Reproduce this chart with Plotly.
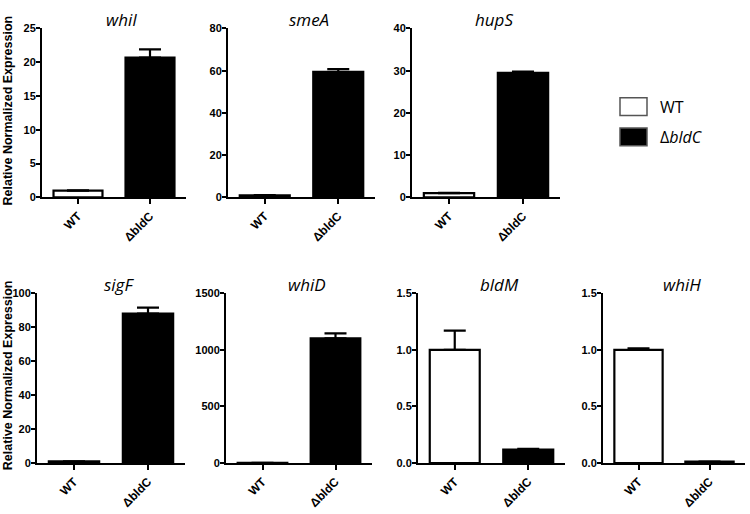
import plotly.graph_objects as go

# ---- data ----
genes = ["whiI", "smeA", "hupS", "sigF", "whiD", "bldM", "whiH"]
strains = ["WT", "ΔbldC"]
wt_vals = [1.0, 1.0, 1.0, 1.0, 1.0, 1.0, 1.0]
wt_err = [0.05, 0.1, 0.1, 0.05, 0.5, 0.17, 0.012]
bldc_vals = [20.7, 59.5, 29.5, 88.0, 1100, 0.12, 0.012]
bldc_err = [1.2, 1.3, 0.3, 3.5, 45, 0.006, 0.002]
y_max = [25, 80, 40, 100, 1500, 1.5, 1.5]
y_dtick = [5, 20, 10, 20, 500, 0.5, 0.5]
y_fmt = ["d", "d", "d", "d", "d", ".1f", ".1f"]

# ---- layout geometry (pixels) ----
W, H = 750, 514
panels = [  # x_left, x_right, y_top, y_zero
    (42, 186, 23, 196),
    (228, 375, 23, 196),
    (412, 560, 23, 196),
    (37, 185, 294, 468),
    (226, 372, 294, 468),
    (418, 565, 294, 468),
    (603, 745, 294, 468),
]

FONT = "Liberation Sans"
fig = go.Figure()
layout = dict(
    width=W, height=H, margin=dict(l=0, r=0, t=0, b=0),
    paper_bgcolor="white", plot_bgcolor="white", showlegend=False,
    bargap=0.32,
)
annotations = []
shapes = []

for i, g in enumerate(genes):
    xl, xr, yt, yz = panels[i]
    sfx = "" if i == 0 else str(i + 1)
    xa, ya = "x" + sfx, "y" + sfx
    fig.add_trace(go.Bar(
        x=strains, y=[wt_vals[i], bldc_vals[i]],
        xaxis=xa, yaxis=ya,
        marker=dict(color=["white", "black"], line=dict(color="black", width=2.2)),
        error_y=dict(type="data", symmetric=False,
                     array=[wt_err[i], bldc_err[i]], arrayminus=[0, 0],
                     color="black", thickness=2.2, width=11),
    ))
    layout["xaxis" + sfx] = dict(
        domain=[xl / W, xr / W], anchor=ya, range=[-0.5, 1.5],
        showline=True, linecolor="black", linewidth=2,
        ticks="outside", ticklen=5, tickwidth=2, tickcolor="black",
        tickangle=-45, showgrid=False, zeroline=False,
        tickfont=dict(family=FONT, size=12, color="black", weight="bold"),
    )
    layout["yaxis" + sfx] = dict(
        domain=[1 - yz / H, 1 - yt / H], anchor=xa, range=[0, y_max[i]],
        dtick=y_dtick[i], tickformat=y_fmt[i],
        showline=True, linecolor="black", linewidth=2,
        ticks="outside", ticklen=4, tickwidth=2, tickcolor="black",
        ticklabelstandoff=-2,
        showgrid=False, zeroline=False,
        tickfont=dict(family=FONT, size=11, color="black", weight="bold"),
    )
    annotations.append(dict(
        x=(xl + xr) / 2 / W + 0.01, y=1 - (yt - 9) / H, xref="paper", yref="paper",
        text=f"<i>{g}</i>", showarrow=False, xanchor="center", yanchor="middle",
        font=dict(family="Open Sans", size=17, color="black"),
    ))

# y-axis titles
for yc in (107, 378):
    annotations.append(dict(
        x=8 / W, y=1 - yc / H, xref="paper", yref="paper",
        text="<b>Relative Normalized Expression</b>", textangle=-90,
        showarrow=False, xanchor="center", yanchor="middle",
        font=dict(family=FONT, size=12.5, color="black"),
    ))

# legend (drawn)
legend_items = [("WT", "white", 103), ("Δ<i>bldC</i>", "black", 134)]
for label, col, yc in legend_items:
    shapes.append(dict(type="rect", xref="paper", yref="paper",
                       x0=620 / W, x1=647 / W, y0=1 - (yc + 9) / H, y1=1 - (yc - 9) / H,
                       fillcolor=col, line=dict(color="#555555", width=1.5)))
    annotations.append(dict(x=658 / W, y=1 - yc / H, xref="paper", yref="paper",
                            text=label, showarrow=False, xanchor="left", yanchor="middle",
                            font=dict(family="Open Sans", size=16, color="black")))

layout["annotations"] = annotations
layout["shapes"] = shapes
fig.update_layout(**layout)
fig.write_html("out.html", config={"displayModeBar": False},
               post_script="document.body.style.margin='0px';")
